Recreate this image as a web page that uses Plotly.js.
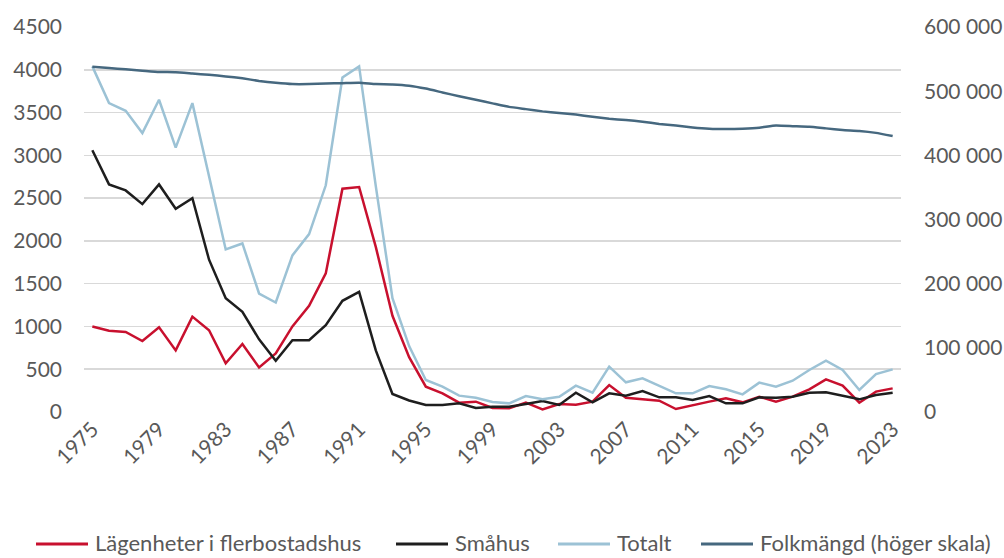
<!DOCTYPE html>
<html>
<head>
<meta charset="utf-8">
<script src="https://cdn.plot.ly/plotly-3.0.1.min.js"></script>
<style>html,body{margin:0;padding:0;background:#fff;}#chart{width:1004px;height:558px;}</style>
</head>
<body>
<div id="chart"></div>
<script>
const years = [];
for (let y = 1975; y <= 2023; y++) years.push(y);

const lagenheter = [1000,950,935,830,990,720,1115,955,570,795,520,685,1000,1240,1620,2610,2630,1930,1125,640,
  296,218,109,121,47,43,109,31,93,85,121,315,167,152,132,35,82,121,160,113,179,121,179,265,382,308,109,238,276];
const smahus = [3060,2660,2590,2430,2660,2375,2500,1780,1330,1170,850,600,840,840,1015,1300,1405,720,210,135,
  82,82,101,47,62,62,93,128,82,226,113,218,191,245,171,171,140,187,101,101,171,167,179,226,230,191,148,199,226];
const totalt = [4040,3610,3520,3260,3650,3090,3610,2740,1900,1970,1385,1280,1830,2080,2650,3910,4040,2640,1330,770,
  374,296,191,167,117,101,187,148,179,308,226,530,347,393,308,218,218,304,265,206,343,296,366,491,600,491,257,444,498];
const folkmangd = [538000,536000,534000,532000,530000,529500,527500,525500,523000,520000,516000,513000,511000,511000,512000,512500,513000,511000,510500,508500,
  504000,498000,492000,486500,481000,475500,472000,468500,466000,463500,460000,457000,455000,452500,449000,446500,443500,441500,441000,441500,
  443000,446500,445500,444500,442000,439500,438000,435000,430000];

const names = ["Lägenheter i flerbostadshus", "Småhus", "Totalt", "Folkmängd (höger skala)"];
const colors = ["#c8102e", "#1e1e1e", "#9cc2d5", "#46687f"];
const xTicks = [1975,1979,1983,1987,1991,1995,1999,2003,2007,2011,2015,2019,2023];

const FONT = "Lato, 'Open Sans', sans-serif";
const GREY = "#595959";

const traces = [
  {x: years, y: lagenheter, name: names[0], type: "scatter", mode: "lines", line: {color: colors[0], width: 2.5}},
  {x: years, y: smahus, name: names[1], type: "scatter", mode: "lines", line: {color: colors[1], width: 2.5}},
  {x: years, y: totalt, name: names[2], type: "scatter", mode: "lines", line: {color: colors[2], width: 2.5}},
  {x: years, y: folkmangd, name: names[3], type: "scatter", mode: "lines", yaxis: "y2",
   line: {color: colors[3], width: 2.5, shape: "spline", smoothing: 0.4}}
];

// manual legend (pixel layout -> paper coordinates)
const W = 1004, H = 558, ML = 84, MR = 103, MT = 27, MB = 146;
const PW = W - ML - MR, PH = H - MT - MB;
const px2x = p => (p - ML) / PW;
const py2y = p => (H - MB - p) / PH;
const legendStarts = [36, 396, 558, 701];
const legendY = 542;
const shapes = [], annotations = [];
names.forEach((n, i) => {
  shapes.push({type: "line", xref: "paper", yref: "paper",
    x0: px2x(legendStarts[i]), x1: px2x(legendStarts[i] + 52), y0: py2y(legendY + 2), y1: py2y(legendY + 2),
    line: {color: colors[i], width: 3}});
  annotations.push({xref: "paper", yref: "paper", x: px2x(legendStarts[i] + 57), y: py2y(legendY),
    xanchor: "left", yanchor: "middle", showarrow: false, text: n,
    font: {family: FONT, size: 22, color: GREY}});
});

const layout = {
  width: W, height: H,
  margin: {l: ML, r: MR, t: MT, b: MB},
  paper_bgcolor: "#fff", plot_bgcolor: "#fff",
  separators: ", ",
  font: {family: FONT, size: 21, color: GREY},
  showlegend: false,
  shapes: shapes, annotations: annotations,
  xaxis: {range: [1974.5, 2023.5], tickmode: "array", tickvals: xTicks, ticktext: xTicks.map(String),
          tickangle: -45, showgrid: false, zeroline: false, showline: false, ticks: "", automargin: false,
          tickfont: {family: FONT, size: 21, color: GREY}},
  yaxis: {range: [0, 4500], dtick: 500, tick0: 0, showgrid: true, gridcolor: "#d9d9d9", gridwidth: 1.5,
          zeroline: false, showline: false, ticks: "", ticklabelstandoff: 21, automargin: false,
          tickfont: {family: FONT, size: 21, color: GREY}},
  yaxis2: {range: [0, 600000], dtick: 100000, tick0: 0, tickformat: ",d", overlaying: "y", side: "right",
           showgrid: false, zeroline: false, showline: false, ticks: "", ticklabelstandoff: 22, automargin: false,
           tickfont: {family: FONT, size: 21, color: GREY}}
};

Plotly.newPlot("chart", traces, layout, {displayModeBar: false, staticPlot: true});
</script>
</body>
</html>
